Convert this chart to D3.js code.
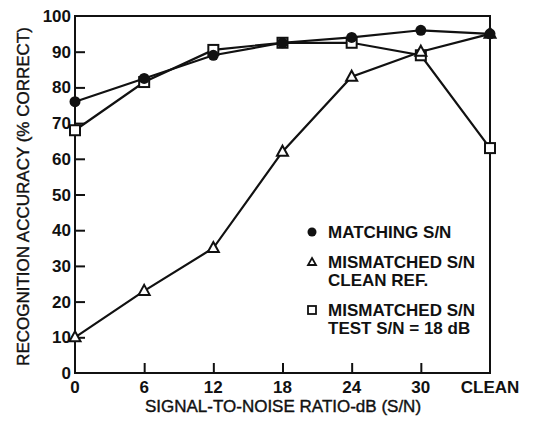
<!DOCTYPE html>
<html>
<head>
<meta charset="utf-8">
<script src="https://cdn.jsdelivr.net/npm/d3@7"></script>
<style>
  body { margin: 0; background: #fff; }
  text { font-family: "Liberation Sans", Arial, sans-serif; fill: #111; }
</style>
</head>
<body>
<script>
const categories = ["0", "6", "12", "18", "24", "30", "CLEAN"];
const matching = [76, 82.5, 89, 92.5, 94, 96, 95];
const mismatchedClean = [10, 23, 35, 62, 83, 90, 95];
const mismatchedTest = [68, 81.5, 90.5, 92.5, 92.5, 89, 63];
const yTicks = [0, 10, 20, 30, 40, 50, 60, 70, 80, 90, 100];

const width = 544, height = 422;
const m = { left: 75, right: 54, top: 16, bottom: 49 };

const svg = d3.select("body").append("svg")
    .attr("width", width)
    .attr("height", height);

const x = d3.scalePoint()
    .domain(categories)
    .range([m.left, width - m.right]);

const y = d3.scaleLinear()
    .domain([0, 100])
    .range([height - m.bottom, m.top]);

// frame
svg.append("rect")
    .attr("x", m.left)
    .attr("y", m.top)
    .attr("width", width - m.left - m.right)
    .attr("height", height - m.top - m.bottom)
    .attr("fill", "none")
    .attr("stroke", "#111")
    .attr("stroke-width", 2);

// axes with inward ticks
const xAxis = d3.axisTop(x).tickSize(10).tickSizeOuter(0).tickFormat(() => "");
svg.append("g")
    .attr("transform", `translate(0,${height - m.bottom})`)
    .call(xAxis)
    .call(g => g.select(".domain").remove())
    .call(g => g.selectAll(".tick line").attr("stroke", "#111").attr("stroke-width", 2))
    .call(g => g.selectAll(".tick").filter(d => d === "0" || d === "CLEAN").remove());

svg.append("g")
    .selectAll("text")
    .data(categories)
    .enter()
    .append("text")
    .attr("x", d => x(d))
    .attr("y", height - m.bottom + 20)
    .attr("text-anchor", "middle")
    .style("font-size", "17px")
    .style("font-weight", "bold")
    .text(d => d);

const yAxis = d3.axisRight(y).tickValues(yTicks).tickSize(10).tickSizeOuter(0).tickFormat(() => "");
svg.append("g")
    .attr("transform", `translate(${m.left},0)`)
    .call(yAxis)
    .call(g => g.select(".domain").remove())
    .call(g => g.selectAll(".tick line").attr("stroke", "#111").attr("stroke-width", 2))
    .call(g => g.selectAll(".tick").filter(d => d === 0 || d === 100).remove());

svg.append("g")
    .selectAll("text")
    .data(yTicks)
    .enter()
    .append("text")
    .attr("x", m.left - 4)
    .attr("y", d => y(d) + 6)
    .attr("text-anchor", "end")
    .style("font-size", "17px")
    .style("font-weight", "bold")
    .text(d => d);

// axis titles
svg.append("text")
    .attr("transform", `translate(29,${(m.top + height - m.bottom) / 2 + 2}) rotate(-90)`)
    .attr("text-anchor", "middle")
    .style("font-size", "17px")
    .style("stroke", "#111")
    .style("stroke-width", 0.4)
    .text("RECOGNITION ACCURACY (% CORRECT)");

svg.append("text")
    .attr("x", 283)
    .attr("y", 412)
    .attr("text-anchor", "middle")
    .style("font-size", "17px")
    .style("stroke", "#111")
    .style("stroke-width", 0.4)
    .text("SIGNAL-TO-NOISE RATIO-dB (S/N)");

// series
const line = d3.line()
    .x((d, i) => x(categories[i]))
    .y(d => y(d));

const series = [
    { name: "matching", values: matching, shape: "circle" },
    { name: "clean", values: mismatchedClean, shape: "triangle" },
    { name: "test", values: mismatchedTest, shape: "square" }
];

series.forEach(s => {
    svg.append("path")
        .datum(s.values)
        .attr("d", line)
        .attr("fill", "none")
        .attr("stroke", "#111")
        .attr("stroke-width", 2.2);
});

function drawMarker(g, shape, cx, cy) {
    if (shape === "circle") {
        g.append("circle").attr("cx", cx).attr("cy", cy).attr("r", 5.5)
            .attr("fill", "#111");
    } else if (shape === "triangle") {
        g.append("path")
            .attr("d", `M${cx},${cy - 6}L${cx + 5.5},${cy + 4}L${cx - 5.5},${cy + 4}Z`)
            .attr("fill", "#fff").attr("stroke", "#111").attr("stroke-width", 2);
    } else {
        g.append("rect").attr("x", cx - 5).attr("y", cy - 5).attr("width", 10).attr("height", 10)
            .attr("fill", "#fff").attr("stroke", "#111").attr("stroke-width", 2);
    }
}

const marks = svg.append("g");
[series[2], series[1], series[0]].forEach(s => {
    s.values.forEach((v, i) => drawMarker(marks, s.shape, x(categories[i]), y(v)));
});

// legend
const legend = [
    { shape: "circle", lines: ["MATCHING S/N"], y: 232 },
    { shape: "triangle", lines: ["MISMATCHED S/N", "CLEAN REF."], y: 262 },
    { shape: "square", lines: ["MISMATCHED S/N", "TEST S/N = 18 dB"], y: 310 }
];
const lg = svg.append("g");
legend.forEach(l => {
    const mk = lg.append("g");
    if (l.shape === "circle") {
        mk.append("circle").attr("cx", 312).attr("cy", l.y).attr("r", 4.5).attr("fill", "#111");
    } else if (l.shape === "triangle") {
        mk.append("path").attr("d", `M312,${l.y - 4}L316,${l.y + 3}L308,${l.y + 3}Z`)
            .attr("fill", "#fff").attr("stroke", "#111").attr("stroke-width", 1.8);
    } else {
        mk.append("rect").attr("x", 308).attr("y", l.y - 4).attr("width", 8).attr("height", 8)
            .attr("fill", "#fff").attr("stroke", "#111").attr("stroke-width", 1.8);
    }
    l.lines.forEach((t, j) => {
        lg.append("text")
            .attr("x", 328)
            .attr("y", l.y + 6 + j * 18)
            .style("font-size", "17px")
            .style("font-weight", "bold")
            .text(t);
    });
});
</script>
</body>
</html>
